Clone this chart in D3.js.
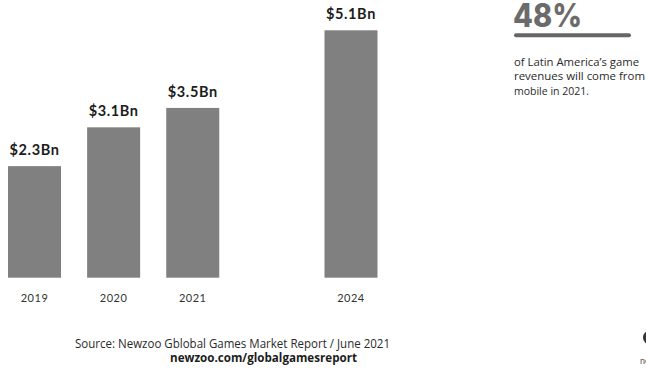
<!DOCTYPE html>
<html>
<head>
<meta charset="utf-8">
<script src="https://cdn.jsdelivr.net/npm/d3@7"></script>
<style>
  html, body { margin: 0; padding: 0; background: #fff; }
  svg { display: block; }
</style>
</head>
<body>
<svg id="chart" width="646" height="371"></svg>
<script>
// Latin America mobile game revenues (US$ billions)
const years = ["2019", "2020", "2021", "2024"];
const revenues = [2.3, 3.1, 3.5, 5.1];
const valueLabels = ["$2.3Bn", "$3.1Bn", "$3.5Bn", "$5.1Bn"];
// x slots: the empty slot leaves a gap before the forecast year
const slots = ["2019", "2020", "2021", "", "2024"];

const statValue = "48%";
const statLines = ["of Latin America\u2019s game", "revenues will come from", "mobile in 2021."];
const sourceLine = "Source: Newzoo Gblobal Games Market Report / June 2021";
const sourceUrl = "newzoo.com/globalgamesreport";

const svg = d3.select("#chart");
const geo = "Lato, 'DejaVu Sans', sans-serif";
const heavy = "Inter, Roboto, sans-serif";
const body = "'Open Sans', 'Noto Sans', sans-serif";

const x = d3.scaleBand().domain(slots).range([8, 377.5]).paddingInner(0.33).paddingOuter(0);
const y = d3.scaleLinear().domain([0, 5.1]).range([277.7, 30.3]);

const data = years.map((yr, i) => ({ year: yr, value: revenues[i], label: valueLabels[i] }));

// bars
svg.append("g").selectAll("rect").data(data).join("rect")
  .attr("x", d => x(d.year))
  .attr("y", d => y(d.value))
  .attr("width", x.bandwidth())
  .attr("height", d => y(0) - y(d.value))
  .attr("fill", "#808080");

// value labels above bars
svg.append("g").selectAll("text").data(data).join("text")
  .attr("x", d => x(d.year) + x.bandwidth() / 2)
  .attr("y", d => y(d.value) - 11)
  .attr("text-anchor", "middle")
  .attr("font-family", geo)
  .attr("font-weight", 700)
  .attr("font-size", 14.5)
  .attr("letter-spacing", 0.6)
  .attr("fill", "#1c1c1c")
  .text(d => d.label);

// category axis (labels only)
const xAxis = d3.axisBottom(x).tickSize(0).tickPadding(0).tickFormat(d => d);
const gx = svg.append("g").attr("transform", `translate(0, ${y(0)})`).call(xAxis);
gx.select(".domain").remove();
gx.selectAll(".tick text")
  .attr("dy", 0)
  .attr("y", 24)
  .attr("font-family", geo)
  .attr("font-size", 11)
  .attr("fill", "#333")
  .attr("letter-spacing", 0.5);

// headline statistic
const stat = svg.append("g");
stat.append("text")
  .attr("x", 513).attr("y", 27)
  .attr("font-family", heavy).attr("font-weight", 800)
  .attr("font-size", 32).attr("fill", "#6b6b6b")
  .attr("textLength", 69).attr("lengthAdjust", "spacingAndGlyphs")
  .text(statValue);
stat.append("line")
  .attr("x1", 516).attr("x2", 629)
  .attr("y1", 35.3).attr("y2", 35.3)
  .attr("stroke", "#666").attr("stroke-width", 4)
  .attr("stroke-linecap", "round");
const statWidths = [125, 131, 75];
stat.selectAll("text.line").data(statLines).join("text")
  .attr("class", "line")
  .attr("x", 514)
  .attr("y", (d, i) => 65.5 + i * 14.8)
  .attr("font-family", body).attr("font-size", 11)
  .attr("fill", "#2a2a2a")
  .attr("textLength", (d, i) => statWidths[i])
  .attr("lengthAdjust", "spacingAndGlyphs")
  .text(d => d);

// source
svg.append("text")
  .attr("x", 75).attr("y", 347.5)
  .attr("font-family", body).attr("font-size", 12)
  .attr("fill", "#2a2a2a")
  .attr("textLength", 315).attr("lengthAdjust", "spacingAndGlyphs")
  .text(sourceLine);
svg.append("text")
  .attr("x", 170).attr("y", 362)
  .attr("font-family", body).attr("font-weight", 700).attr("font-size", 11.5)
  .attr("fill", "#1c1c1c")
  .attr("textLength", 187).attr("lengthAdjust", "spacingAndGlyphs")
  .text(sourceUrl);

// brand mark at the lower right edge
svg.append("circle")
  .attr("cx", 650).attr("cy", 337.5).attr("r", 7)
  .attr("fill", "#333");
svg.append("text")
  .attr("x", 640).attr("y", 364)
  .attr("font-family", geo).attr("font-size", 9)
  .attr("fill", "#555")
  .text("newzoo");
</script>
</body>
</html>
